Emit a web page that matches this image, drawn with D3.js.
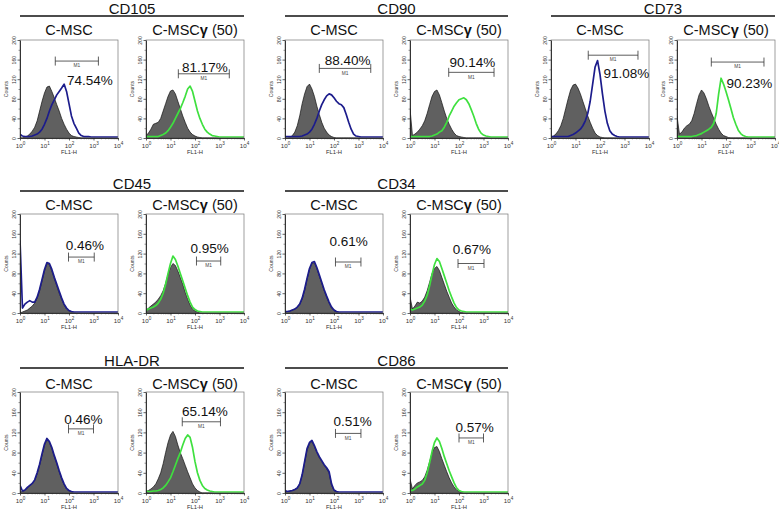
<!DOCTYPE html>
<html><head><meta charset="utf-8">
<script src="https://cdn.jsdelivr.net/npm/d3@7"></script>
<style>body{margin:0;background:#fff}svg{display:block}</style>
</head><body>
<script>
// ---------------- DATA ----------------
const markers = ["CD105","CD90","CD73","CD45","CD34","HLA-DR","CD86"];
const conditions = ["C-MSC","C-MSC\u03b3 (50)"];
const yTicks = [0,40,80,120,160,200];
const yMinor = [20,60,100,140,180];
const xTicks = [1,10,100,1000,10000];
const xTickExp = ["0","1","2","3","4"];
// log10(FL1-H) bin positions
const logBins = [0,0.1,0.2,0.3,0.4,0.5,0.6,0.7,0.8,0.9,1.0,1.1,1.2,1.3,1.4,1.5,1.6,1.7,1.8,1.9,2.0,2.1,2.2,2.3,2.4,2.5,2.6,2.7,2.8,2.9,3.0,3.1,3.2,3.3,3.4,3.5,3.6,3.7,3.8,3.9,4.0];

const iso_CD105_C = [0,0,2,4,8,14,22,35,55,75, 92,104,106,95,82,68,55,40,28,18, 10,5,3,2,1,0,0,0,0,0, 0,0,0,0,0,0,0,0,0,0, 0];
const stn_CD105_C = [8,4,3,3,3,4,6,8,12,18, 28,40,55,68,78,88,95,102,110,95, 70,45,30,20,10,5,3,3,3,2, 2,2,2,2,2,2,2,2,2,2, 2];
const iso_CD105_G = [5,10,18,28,30,32,40,55,70,85, 96,98,90,75,60,45,32,20,12,7, 4,2,1,0,0,0,0,0,0,0, 0,0,0,0,0,0,0,0,0,0, 0];
const stn_CD105_G = [3,3,3,3,3,3,5,7,10,15, 22,30,40,50,60,72,85,100,106,95, 75,55,40,28,18,12,8,5,4,3, 2,2,2,2,2,2,2,2,2,2, 2];
const iso_CD90_C = [0,0,1,5,12,25,45,70,90,105, 110,100,85,65,48,32,20,12,6,3, 1,0,0,0,0,0,0,0,0,0, 0,0,0,0,0,0,0,0,0,0, 0];
const stn_CD90_C = [3,3,3,3,3,3,3,4,6,8, 12,18,28,40,55,68,78,86,90,88, 82,75,70,68,62,48,32,18,8,4, 3,2,2,2,2,2,2,2,2,2, 2];
const iso_CD90_G = [60,5,8,12,18,25,35,50,68,85, 95,98,88,72,55,40,28,18,10,5, 3,2,1,0,0,0,0,0,0,0, 0,0,0,0,0,0,0,0,0,0, 0];
const stn_CD90_G = [3,3,3,3,3,3,3,3,3,4, 6,8,12,15,22,32,45,55,65,72, 78,80,82,78,70,58,45,30,18,10, 6,4,3,2,2,2,2,2,2,2, 2];
const iso_CD73_C = [2,4,8,15,25,40,60,80,98,108, 110,102,90,75,60,45,32,20,10,5, 2,1,0,0,0,0,0,0,0,0, 0,0,0,0,0,0,0,0,0,0, 0];
const stn_CD73_C = [3,3,3,3,3,3,3,3,5,7, 10,14,18,25,35,50,75,110,145,158, 130,90,55,30,15,8,5,3,2,2, 2,2,2,2,2,2,2,2,2,2, 2];
const iso_CD73_G = [45,8,12,20,25,28,35,50,70,88, 98,92,80,65,52,40,28,18,10,5, 3,1,0,0,0,0,0,0,0,0, 0,0,0,0,0,0,0,0,0,0, 0];
const stn_CD73_G = [3,3,3,3,3,3,3,4,5,7, 9,12,15,18,22,30,50,90,122,110, 95,78,60,42,28,16,9,5,3,2, 2,2,2,2,2,2,2,2,2,2, 2];
const iso_CD45_C = [0,2,4,6,10,14,20,30,45,65, 85,100,98,85,70,55,40,28,16,8, 4,2,1,0,0,0,0,0,0,0, 0,0,0,0,0,0,0,0,0,0, 0];
const stn_CD45_C = [147,10,18,22,25,22,22,32,48,68, 88,102,100,88,72,58,44,30,18,10, 5,3,2,2,2,2,2,2,2,2, 2,2,2,2,2,2,2,2,2,2, 2];
const iso_CD45_G = [5,10,14,18,22,28,35,45,60,78, 92,100,96,85,72,58,42,28,16,8, 4,2,0,0,0,0,0,0,0,0, 0,0,0,0,0,0,0,0,0,0, 0];
const stn_CD45_G = [5,8,10,12,15,20,28,40,58,80, 100,115,108,95,80,65,50,35,22,12, 7,4,3,2,2,2,2,2,2,2, 2,2,2,2,2,2,2,2,2,2, 2];
const iso_CD34_C = [2,3,4,6,8,12,18,28,45,68, 88,100,102,90,75,60,45,32,20,10, 5,2,1,0,0,0,0,0,0,0, 0,0,0,0,0,0,0,0,0,0, 0];
const stn_CD34_C = [3,3,4,6,8,12,18,30,48,70, 90,102,104,92,77,62,47,34,22,12, 6,3,2,2,2,2,2,2,2,2, 2,2,2,2,2,2,2,2,2,2, 2];
const iso_CD34_G = [33,8,14,22,20,24,32,45,62,80, 90,94,86,72,58,44,32,20,12,6, 3,1,0,0,0,0,0,0,0,0, 0,0,0,0,0,0,0,0,0,0, 0];
const stn_CD34_G = [8,6,8,10,12,16,24,36,55,78, 98,110,104,90,75,60,45,32,20,11, 6,4,3,2,2,2,2,2,2,2, 2,2,2,2,2,2,2,2,2,2, 2];
const iso_HLA_C = [2,3,5,10,14,18,25,38,55,75, 95,105,100,88,72,58,42,28,16,8, 4,2,0,0,0,0,0,0,0,0, 0,0,0,0,0,0,0,0,0,0, 0];
const stn_HLA_C = [15,4,6,11,15,19,26,40,57,78, 97,108,102,90,74,60,44,30,18,9, 5,3,2,2,2,2,2,2,2,2, 2,2,2,2,2,2,2,2,2,2, 2];
const iso_HLA_G = [3,5,8,12,18,28,40,58,80,100, 115,122,112,95,80,68,55,42,30,18, 10,5,2,0,0,0,0,0,0,0, 0,0,0,0,0,0,0,0,0,0, 0];
const stn_HLA_G = [4,3,3,4,4,5,7,10,15,22, 30,42,55,68,80,95,108,115,110,90, 62,40,25,15,9,6,4,3,2,2, 2,2,2,2,2,2,2,2,2,2, 2];
const iso_CD86_C = [2,3,4,5,7,10,18,35,60,85, 98,102,92,80,70,62,55,48,40,15, 5,2,0,0,0,0,0,0,0,0, 0,0,0,0,0,0,0,0,0,0, 0];
const stn_CD86_C = [5,3,4,5,7,10,18,36,62,88, 100,104,94,82,72,64,56,50,42,18, 6,3,2,2,2,2,2,2,2,2, 2,2,2,2,2,2,2,2,2,2, 2];
const iso_CD86_G = [28,8,15,20,22,25,32,45,62,80, 90,92,82,68,55,42,30,20,12,6, 3,1,0,0,0,0,0,0,0,0, 0,0,0,0,0,0,0,0,0,0, 0];
const stn_CD86_G = [5,5,8,12,15,18,25,40,60,82, 100,109,102,88,72,58,44,32,20,10, 5,3,2,2,2,2,2,2,2,2, 2,2,2,2,2,2,2,2,2,2, 2];

const isotypes = [iso_CD105_C,iso_CD105_G,iso_CD90_C,iso_CD90_G,iso_CD73_C,iso_CD73_G,iso_CD45_C,iso_CD45_G,iso_CD34_C,iso_CD34_G,iso_HLA_C,iso_HLA_G,iso_CD86_C,iso_CD86_G];
const stained = [stn_CD105_C,stn_CD105_G,stn_CD90_C,stn_CD90_G,stn_CD73_C,stn_CD73_G,stn_CD45_C,stn_CD45_G,stn_CD34_C,stn_CD34_G,stn_HLA_C,stn_HLA_G,stn_CD86_C,stn_CD86_G];
const percents = ["74.54%","81.17%","88.40%","90.14%","91.08%","90.23%","0.46%","0.95%","0.61%","0.67%","0.46%","65.14%","0.51%","0.57%"];
// M1 gate (log10 FL1-H bounds, count level)
const gateLo = [1.44,1.32,1.40,1.58,1.52,1.40,1.98,2.06,2.06,1.96,1.98,1.48,2.06,2.00];
const gateHi = [3.20,3.40,3.50,3.43,3.55,3.55,3.03,3.05,3.10,3.02,3.00,3.04,3.10,3.00];
const gateAt = [157,131,142,134,169,155,113,105,103,100,127,141,118,109];

// ---------------- LAYOUT ----------------
const groupCell = [[0,0],[0,1],[0,2],[1,0],[1,1],[2,0],[2,1]]; // row, col
const colX = [[20,146],[285,410],[551,677]];
const rowTop = [40,214,392];
const rowH = [98,99,101];
const panelW = 98;
const titleY = [14,189,366], ruleY = [16,191,368], subY = [35,210,389];
const labelLayout = [[1.92,108,"start"],[2.4,135,"middle"],[2.56,148,"middle"],[2.55,144,"middle"],[2.14,122,"start"],[2.02,103,"start"],
  [2.65,127,"middle"],[2.6,121,"middle"],[2.6,135,"middle"],[2.53,120,"middle"],
  [2.59,137,"middle"],[2.4,153,"middle"],[2.76,133,"middle"],[2.64,121,"middle"]];
const FONT = "'Liberation Sans', Arial, Helvetica, sans-serif";
const lineColors = ["#1c1c8c","#3fe03f"];

const svg = d3.select("body").append("svg").attr("width",779).attr("height",512)
  .style("font-family",FONT);
svg.append("rect").attr("width",779).attr("height",512).attr("fill","#fff");
const defs = svg.append("defs");

markers.forEach((m,gi)=>{
  const [r,c] = groupCell[gi];
  const xl = colX[c][0], xr = colX[c][1]+panelW;
  svg.append("text").attr("x",(xl+xr)/2).attr("y",titleY[r]).attr("text-anchor","middle")
    .attr("font-size",15).attr("fill","#111").text(m);
  svg.append("line").attr("x1",xl).attr("x2",xr).attr("y1",ruleY[r]).attr("y2",ruleY[r])
    .attr("stroke","#111").attr("stroke-width",1.3);

  conditions.forEach((cond,ci)=>{
    const pi = gi*2+ci;
    const x0 = colX[c][ci], y0 = rowTop[r], h = rowH[r];
    const sub = svg.append("text").attr("x",x0+panelW/2).attr("y",subY[r]).attr("text-anchor","middle")
      .attr("font-size",14.5).attr("fill","#111");
    if(ci===0) sub.text(cond);
    else { sub.append("tspan").text("C-MSC"); sub.append("tspan").attr("font-weight","bold").text("\u03b3"); sub.append("tspan").text(" (50)"); }

    const x = d3.scaleLog().domain([1,10000]).range([x0,x0+panelW]);
    const y = d3.scaleLinear().domain([0,200]).range([y0+h,y0]);
    const g = svg.append("g");
    const cid = "clip"+pi;
    defs.append("clipPath").attr("id",cid).append("rect").attr("x",x0).attr("y",y0).attr("width",panelW).attr("height",h);

    const isoPts = logBins.map((b,i)=>({v:Math.pow(10,b),c:isotypes[pi][i]}));
    const stnPts = logBins.map((b,i)=>({v:Math.pow(10,b),c:stained[pi][i]}));
    const area = d3.area().x(d=>x(d.v)).y0(y(0)).y1(d=>y(d.c)).curve(d3.curveLinear);
    const line = d3.line().x(d=>x(d.v)).y(d=>y(d.c)).curve(d3.curveLinear);
    const pg = g.append("g").attr("clip-path",`url(#${cid})`);
    pg.append("path").datum(isoPts).attr("d",area).attr("fill","#606060").attr("stroke","#111").attr("stroke-width",0.7);
    pg.append("path").datum(stnPts).attr("d",line).attr("fill","none").attr("stroke",lineColors[ci]).attr("stroke-width",1.7).attr("stroke-linejoin","round");

    // frame
    g.append("rect").attr("x",x0).attr("y",y0).attr("width",panelW).attr("height",h)
      .attr("fill","none").attr("stroke","#777").attr("stroke-width",0.7);

    // y axis
    const ya = g.append("g").attr("transform",`translate(${x0},0)`)
      .call(d3.axisLeft(y).tickValues(yTicks).tickSize(2.5).tickSizeOuter(0).tickFormat(d3.format("d")));
    ya.select(".domain").attr("stroke","#222").attr("stroke-width",0.9);
    ya.selectAll(".tick line").attr("stroke","#222").attr("stroke-width",0.7);
    ya.selectAll(".tick text").attr("transform","rotate(-90)").attr("x",0).attr("y",-4).attr("dy",0)
      .attr("text-anchor","middle").attr("font-size",5.2).attr("font-family",FONT).attr("fill","#333");
    const ym = g.append("g").attr("transform",`translate(${x0},0)`)
      .call(d3.axisLeft(y).tickValues(yMinor).tickSize(1.5).tickFormat(""));
    ym.select(".domain").remove();
    ym.selectAll(".tick line").attr("stroke","#333").attr("stroke-width",0.5);

    // x axis
    const xa = g.append("g").attr("transform",`translate(0,${y0+h})`)
      .call(d3.axisBottom(x).tickValues(xTicks).tickSize(2.5).tickSizeOuter(0).tickFormat(""));
    xa.select(".domain").attr("stroke","#222").attr("stroke-width",0.9);
    xa.selectAll(".tick line").attr("stroke","#222").attr("stroke-width",0.7);
    xa.selectAll(".tick").each(function(d,i){
      const t = d3.select(this).append("text").attr("y",9.5).attr("text-anchor","middle")
        .attr("font-size",6.2).attr("fill","#333").attr("font-family",FONT);
      t.append("tspan").text("10");
      t.append("tspan").attr("dy",-2.8).attr("font-size",4.6).text(xTickExp[i]);
    });
    const xm = g.append("g").attr("transform",`translate(0,${y0+h})`)
      .call(d3.axisBottom(x).tickValues(x.ticks().filter(v=>xTicks.indexOf(v)<0)).tickSize(1.4).tickFormat(""));
    xm.select(".domain").remove();
    xm.selectAll(".tick line").attr("stroke","#333").attr("stroke-width",0.45);

    g.append("text").attr("x",x0+panelW/2).attr("y",y0+h+16).attr("text-anchor","middle")
      .attr("font-size",5.8).attr("fill","#333").text("FL1-H");
    g.append("text").attr("transform",`translate(${x0-12},${y0+h/2}) rotate(-90)`).attr("text-anchor","middle")
      .attr("font-size",5.2).attr("fill","#333").text("Counts");

    // M1 gate
    const gx1 = x(Math.pow(10,gateLo[pi])), gx2 = x(Math.pow(10,gateHi[pi])), gy = y(gateAt[pi]);
    g.append("line").attr("x1",gx1).attr("x2",gx2).attr("y1",gy).attr("y2",gy).attr("stroke","#333").attr("stroke-width",0.8);
    [gx1,gx2].forEach(gxv=>g.append("line").attr("x1",gxv).attr("x2",gxv).attr("y1",gy-4.5).attr("y2",gy+4.5).attr("stroke","#333").attr("stroke-width",0.8));
    g.append("text").attr("x",(gx1+gx2)/2).attr("y",gy+6.2).attr("text-anchor","middle")
      .attr("font-size",4.8).attr("fill","#444").text("M1");

    // percentage
    const L = labelLayout[pi];
    g.append("text").attr("x",x(Math.pow(10,L[0]))).attr("y",y(L[1])).attr("text-anchor",L[2])
      .attr("font-size",13.5).attr("fill","#111").text(percents[pi]);
  });
});
</script>
</body></html>
